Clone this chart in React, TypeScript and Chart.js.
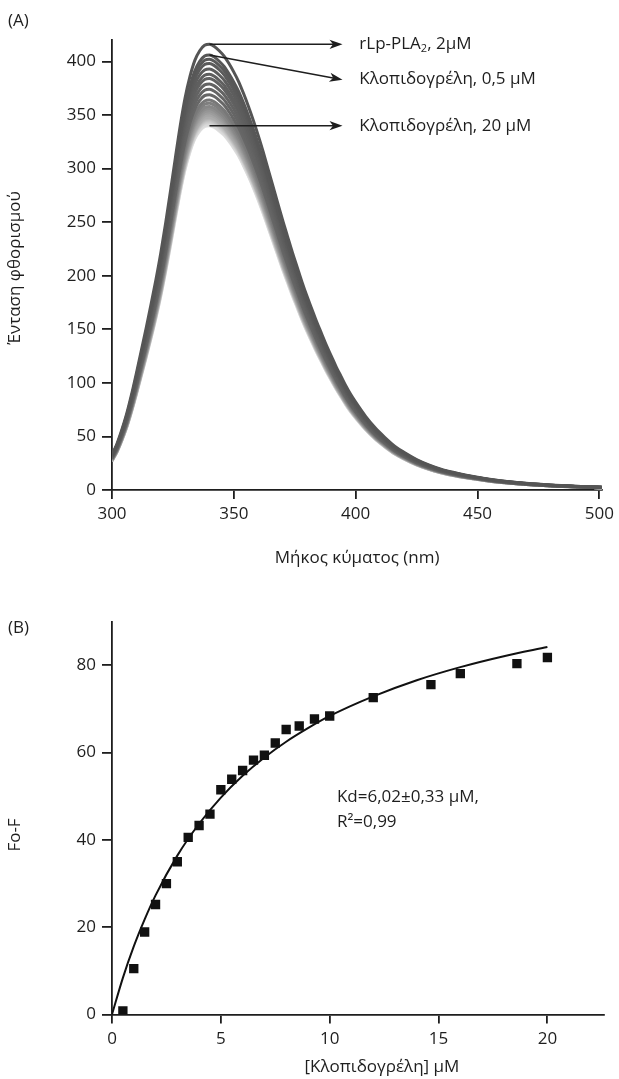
import React, { useEffect, useRef } from "react";
import { Chart, registerables } from "chart.js";

Chart.register(...registerables);

// ---------- DATA ----------
// Panel A: emission spectrum of rLp-PLA2 alone (outer, darkest curve)
const wavelengths = [
  300, 302, 304, 306, 308, 310, 312, 314, 316, 318, 320, 322, 324, 326, 328, 330,
  332, 334, 336, 338, 340, 342, 344, 346, 348, 350, 352, 354, 356, 358, 360, 362,
  364, 366, 368, 370, 372, 374, 376, 378, 380, 382, 384, 386, 388, 390, 392, 394,
  396, 398, 400, 404, 408, 412, 416, 420, 425, 430, 435, 440, 445, 450, 455, 460,
  470, 480, 490, 501,
];
const proteinSpectrum = [
  33, 43, 56, 71, 89, 109, 130, 151, 173, 196, 221, 249, 279, 310, 340, 366,
  386, 401, 410, 415, 416, 414, 410, 405, 398, 390, 381, 370, 358, 345, 331, 316,
  300, 284, 268, 252, 237, 222, 208, 194, 181, 169, 157, 146, 135, 125, 115, 106,
  97, 89, 82, 69, 58, 49, 41, 35, 28.5, 23.5, 19.5, 16.5, 14, 12, 10, 8.5,
  6.2, 4.6, 3.5, 2.6,
];
// Peak intensity of each titration spectrum (protein alone first, then 0.5 ... 20 μM)
const peakIntensities = [
  416, 406, 402, 398, 393, 388, 384, 379, 374, 369, 364, 361, 358, 356, 354, 352,
  350, 348, 347, 346, 345, 344, 343, 341, 340,
];
const xTicksA = [300, 350, 400, 450, 500];
const yTicksA = [0, 50, 100, 150, 200, 250, 300, 350, 400];

// Panel B: quenching vs clopidogrel concentration
const concentrations = [
  0.5, 1, 1.5, 2, 2.5, 3, 3.5, 4, 4.5, 5, 5.5, 6, 6.5, 7, 7.5, 8, 8.6, 9.3, 10, 12,
  14.65, 16, 18.6, 20,
];
const quenching = [
  0.8, 10.5, 18.9, 25.2, 30.0, 35.0, 40.6, 43.3, 45.9, 51.5, 53.9, 55.9, 58.3, 59.4,
  62.2, 65.3, 66.1, 67.7, 68.4, 72.6, 75.6, 78.1, 80.4, 81.8,
];
const fitConc = [0, 0.5, 1, 1.5, 2, 3, 4, 5, 6, 7, 8, 9, 10, 12, 14, 16, 18, 20];
const fitValues = [
  0, 8.4, 15.6, 21.8, 27.3, 36.4, 43.7, 49.7, 54.7, 58.9, 62.5, 65.6, 68.4, 72.9,
  76.6, 79.6, 82.1, 84.2,
];
const xTicksB = [0, 5, 10, 15, 20];
const yTicksB = [0, 20, 40, 60, 80];

// ---------- STYLE ----------
const FONT = "'Open Sans', 'Noto Sans', sans-serif";
const INK = "#1e1e1e";
Chart.defaults.font.family = FONT;
Chart.defaults.color = INK;

function grayFor(i: number) {
  let g: number;
  if (i < 10) g = 0x55 + i * 2;
  else g = 0x78 + Math.round(((i - 10) * (0xe0 - 0x78)) / 14);
  return `rgb(${g},${g},${g})`;
}

function drawArrow(ctx: CanvasRenderingContext2D, x1: number, y1: number, x2: number, y2: number) {
  const ang = Math.atan2(y2 - y1, x2 - x1);
  const len = 13;
  const half = 4.6;
  const notch = 3.5;
  ctx.save();
  ctx.strokeStyle = INK;
  ctx.fillStyle = INK;
  ctx.lineWidth = 1.5;
  ctx.beginPath();
  ctx.moveTo(x1, y1);
  ctx.lineTo(x2 - Math.cos(ang) * (len - notch), y2 - Math.sin(ang) * (len - notch));
  ctx.stroke();
  ctx.translate(x2, y2);
  ctx.rotate(ang);
  ctx.beginPath();
  ctx.moveTo(0, 0);
  ctx.lineTo(-len, -half);
  ctx.lineTo(-len + notch, 0);
  ctx.lineTo(-len, half);
  ctx.closePath();
  ctx.fill();
  ctx.restore();
}

function axisX(min: number, max: number, ticks: number[], height: number) {
  return {
    type: "linear" as const,
    min,
    max,
    afterBuildTicks: (s: any) => {
      s.ticks = ticks.map((v) => ({ value: v }));
    },
    afterFit: (s: any) => {
      s.height = height;
    },
    ticks: { font: { size: 17 }, color: INK, padding: 5, maxRotation: 0, autoSkip: false },
    grid: { drawOnChartArea: false, drawTicks: true, tickLength: 9, color: INK, lineWidth: 1.8 },
    border: { display: true, color: INK, width: 1.8 },
  };
}

function axisY(min: number, max: number, ticks: number[]) {
  return {
    type: "linear" as const,
    min,
    max,
    afterBuildTicks: (s: any) => {
      s.ticks = ticks.map((v) => ({ value: v }));
    },
    afterFit: (s: any) => {
      s.width = 112;
    },
    ticks: { font: { size: 17 }, color: INK, padding: 6, autoSkip: false },
    grid: { drawOnChartArea: false, drawTicks: true, tickLength: 10, color: INK, lineWidth: 1.8 },
    border: { display: true, color: INK, width: 1.8 },
  };
}

function text(ctx: CanvasRenderingContext2D, s: string, x: number, y: number, align: CanvasTextAlign = "left", rot = 0) {
  ctx.save();
  ctx.font = `17px ${FONT}`;
  ctx.fillStyle = INK;
  ctx.textAlign = align;
  ctx.textBaseline = "middle";
  ctx.translate(x, y);
  if (rot) ctx.rotate(rot);
  ctx.fillText(s, 0, 0);
  ctx.restore();
}

// ---------- PANEL A ----------
function SpectraChart() {
  const ref = useRef<HTMLCanvasElement>(null);
  useEffect(() => {
    const peakRef = Math.max(...proteinSpectrum);
    const datasets = peakIntensities.map((peak, i) => ({
      data: wavelengths.map((w, j) => ({ x: w, y: (proteinSpectrum[j] * peak) / peakRef })),
      borderColor: grayFor(i),
      borderWidth: 3,
      pointRadius: 0,
      cubicInterpolationMode: "monotone" as const,
      fill: false,
    }));
    const labelsPlugin = {
      id: "labelsA",
      afterDraw(chart: any) {
        const ctx = chart.ctx as CanvasRenderingContext2D;
        const xs = chart.scales.x;
        const ys = chart.scales.y;
        const X = (v: number) => xs.getPixelForValue(v);
        const Y = (v: number) => ys.getPixelForValue(v);
        const last = peakIntensities[peakIntensities.length - 1];
        const arrows = [
          [340, peakIntensities[0], 394.6, peakIntensities[0]],
          [340, peakIntensities[1], 394.6, 383],
          [340, last, 394.6, last],
        ];
        arrows.forEach((a) => drawArrow(ctx, X(a[0]), Y(a[1]), X(a[2]), Y(a[3])));
        const tx = X(401.5);
        ctx.save();
        ctx.font = `17px ${FONT}`;
        ctx.fillStyle = INK;
        ctx.textBaseline = "middle";
        const y1 = Y(peakIntensities[0]);
        let cx = tx;
        ctx.fillText("rLp-PLA", cx, y1);
        cx += ctx.measureText("rLp-PLA").width;
        ctx.font = `11px ${FONT}`;
        ctx.fillText("2", cx, y1 + 5);
        cx += ctx.measureText("2").width;
        ctx.font = `17px ${FONT}`;
        ctx.fillText(", 2μM", cx, y1);
        ctx.restore();
        text(ctx, "Κλοπιδογρέλη, 0,5 μM", tx, Y(383));
        text(ctx, "Κλοπιδογρέλη, 20 μM", tx, Y(last));
        text(ctx, "(A)", 8, 21);
        text(ctx, "Μήκος κύματος (nm)", (chart.chartArea.left + chart.chartArea.right) / 2, 558, "center");
        text(ctx, "Ένταση φθορισμού", 15, 268, "center", -Math.PI / 2);
      },
    };
    const chart = new Chart(ref.current!, {
      type: "line",
      data: { datasets },
      options: {
        animation: false,
        responsive: false,
        events: [],
        layout: { padding: { left: 0, top: 40, right: 12.5, bottom: 0 } },
        plugins: { legend: { display: false }, tooltip: { enabled: false } },
        scales: {
          x: axisX(300, 501.2, xTicksA, 100),
          y: axisY(0, 420, yTicksA),
        },
      },
      plugins: [labelsPlugin],
    });
    return () => chart.destroy();
  }, []);
  return <canvas ref={ref} width={619} height={590} style={{ position: "absolute", left: 0, top: 0 }} />;
}

// ---------- PANEL B ----------
function BindingChart() {
  const ref = useRef<HTMLCanvasElement>(null);
  useEffect(() => {
    const labelsPlugin = {
      id: "labelsB",
      afterDraw(chart: any) {
        const ctx = chart.ctx as CanvasRenderingContext2D;
        const xs = chart.scales.x;
        const ys = chart.scales.y;
        text(ctx, "Kd=6,02±0,33 μM,", xs.getPixelForValue(10.33), ys.getPixelForValue(49.7));
        text(ctx, "R²=0,99", xs.getPixelForValue(10.33), ys.getPixelForValue(44));
        text(ctx, "(B)", 8, 38);
        text(ctx, "[Κλοπιδογρέλη] μM", xs.getPixelForValue(12.4), 477, "center");
        text(ctx, "Fo-F", 15, 245, "center", -Math.PI / 2);
      },
    };
    const chart = new Chart(ref.current!, {
      type: "scatter",
      data: {
        datasets: [
          {
            data: concentrations.map((c, i) => ({ x: c, y: quenching[i] })),
            pointStyle: "rect",
            pointRadius: 6.6,
            backgroundColor: "#111",
            borderWidth: 0,
            showLine: false,
          },
          {
            data: fitConc.map((c, i) => ({ x: c, y: fitValues[i] })),
            showLine: true,
            borderColor: "#111",
            borderWidth: 2,
            pointRadius: 0,
            cubicInterpolationMode: "monotone" as const,
          },
        ],
      },
      options: {
        animation: false,
        responsive: false,
        events: [],
        layout: { padding: { left: 0, top: 31.7, right: 15, bottom: 0 } },
        plugins: { legend: { display: false }, tooltip: { enabled: false } },
        scales: {
          x: axisX(0, 22.6, xTicksB, 64.5),
          y: axisY(0, 90, yTicksB),
        },
      },
      plugins: [labelsPlugin],
    });
    return () => chart.destroy();
  }, []);
  return <canvas ref={ref} width={619} height={489} style={{ position: "absolute", left: 0, top: 590 }} />;
}

export default function App() {
  useEffect(() => {
    document.body.style.margin = "0";
    document.body.style.background = "#fff";
  }, []);
  return (
    <div style={{ position: "relative", width: 619, height: 1079, background: "#fff", overflow: "hidden" }}>
      <SpectraChart />
      <BindingChart />
    </div>
  );
}
